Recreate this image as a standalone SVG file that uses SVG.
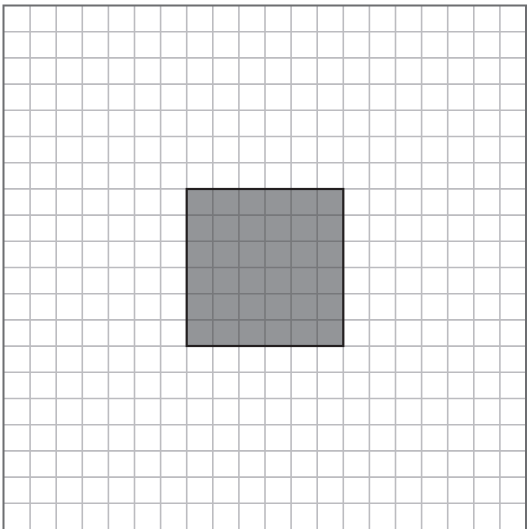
<svg xmlns="http://www.w3.org/2000/svg" width="527" height="529" viewBox="0 0 527 529">
<style>
.g{stroke:#bcbcc0;stroke-width:1.6;fill:none}
.gi{stroke:#77787b;stroke-width:1.6;fill:none}
.frame{stroke:#6d6e71;stroke-width:2;fill:none}
</style>
<rect width="527" height="529" fill="#ffffff"/>
<g id="grid">
<path class="g" d="M30.1 5.5V530M56.2 5.5V530M82.3 5.5V530M108.4 5.5V530M134.5 5.5V530M160.6 5.5V530M186.7 5.5V530M212.8 5.5V530M238.9 5.5V530M265 5.5V530M291.1 5.5V530M317.2 5.5V530M343.3 5.5V530M369.4 5.5V530M395.5 5.5V530M421.6 5.5V530M447.7 5.5V530M473.8 5.5V530M499.9 5.5V530"/>
<path class="g" d="M4 31.7H526M4 57.9H526M4 84.1H526M4 110.3H526M4 136.5H526M4 162.7H526M4 188.9H526M4 215.1H526M4 241.3H526M4 267.5H526M4 293.7H526M4 319.9H526M4 346.1H526M4 372.3H526M4 398.5H526M4 424.7H526M4 450.9H526M4 477.1H526M4 503.3H526"/>
<path class="frame" d="M3.5 530V5.5H526V530"/>
</g>
<g id="square">
<rect x="186.7" y="189" width="156.6" height="157" fill="#939598"/>
<path class="gi" d="M212.8 189V346M238.9 189V346M265 189V346M291.1 189V346M317.2 189V346M186.7 215.1H343.3M186.7 241.3H343.3M186.7 267.5H343.3M186.7 293.7H343.3M186.7 319.9H343.3"/>
<rect x="186.7" y="189" width="156.6" height="157" fill="none" stroke="#231f20" stroke-width="2.2"/>
</g>
</svg>
